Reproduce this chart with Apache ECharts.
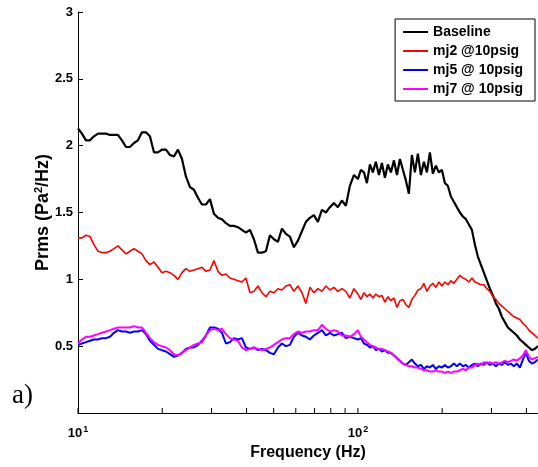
<!DOCTYPE html>
<html>
<head>
<meta charset="utf-8">
<script src="https://cdn.jsdelivr.net/npm/echarts@6/dist/echarts.min.js"></script>
<style>
  html, body { margin: 0; padding: 0; background: #ffffff; }
  #chart { width: 538px; height: 467px; }
</style>
</head>
<body>
<div id="chart"></div>
<script>
// Frequency bins (Hz), log-spaced
const freq = [
  10.00, 10.33, 10.68, 11.04, 11.40, 11.79, 12.18, 12.59, 13.01, 13.44,
  13.89, 14.36, 14.84, 15.33, 15.85, 16.38, 16.92, 17.49, 18.07, 18.68,
  19.31, 19.95, 20.62, 21.31, 22.02, 22.76, 23.52, 24.30, 25.12, 25.96,
  26.83, 27.72, 28.65, 29.61, 30.60, 31.62, 32.68, 33.77, 34.90, 36.06,
  37.28, 38.52, 39.81, 41.14, 42.51, 43.94, 45.40, 46.92, 48.49, 50.12,
  51.79, 53.53, 55.31, 57.16, 59.07, 61.05, 63.10, 65.20, 67.38, 69.63,
  71.97, 74.37, 76.86, 79.43, 82.08, 84.83, 87.66, 90.59, 93.62, 96.76,
  100.0, 102.5, 105.1, 107.7, 110.4, 113.1, 115.9, 118.9, 121.8, 124.9,
  128.0, 131.2, 134.5, 137.9, 141.3, 144.8, 148.4, 152.1, 155.9, 159.8,
  163.8, 167.9, 172.1, 176.4, 180.8, 185.3, 189.9, 194.7, 199.5, 204.5,
  209.6, 214.9, 220.2, 225.7, 231.4, 237.2, 243.1, 249.2, 255.4, 261.8,
  268.3, 275.0, 281.9, 288.9, 296.2, 303.6, 311.1, 318.9, 326.9, 335.1,
  343.4, 352.0, 360.8, 369.8, 379.1, 388.6, 398.3, 408.2, 418.4, 428.9,
  439.6
];

const seriesNames = ['Baseline', 'mj2 @10psig', 'mj5 @ 10psig', 'mj7 @ 10psig'];
const seriesColors = ['#000000', '#ff0000', '#0000ff', '#ff00ff'];

const baseline = [
  2.13, 2.09, 2.04, 2.04, 2.07, 2.09, 2.09, 2.09, 2.08, 2.08,
  2.08, 2.04, 1.99, 1.99, 2.02, 2.04, 2.10, 2.10, 2.07, 1.95,
  1.95, 1.97, 1.97, 1.93, 1.92, 1.97, 1.90, 1.77, 1.69, 1.67,
  1.61, 1.56, 1.56, 1.60, 1.49, 1.46, 1.45, 1.42, 1.40, 1.40,
  1.39, 1.37, 1.35, 1.37, 1.30, 1.20, 1.20, 1.21, 1.33, 1.30,
  1.28, 1.38, 1.34, 1.32, 1.24, 1.29, 1.36, 1.43, 1.46, 1.48,
  1.43, 1.52, 1.50, 1.54, 1.57, 1.54, 1.59, 1.55, 1.70, 1.78,
  1.75, 1.82, 1.80, 1.72, 1.86, 1.80, 1.88, 1.78, 1.87, 1.76,
  1.86, 1.80, 1.89, 1.78, 1.90, 1.82, 1.74, 1.64, 1.93, 1.80,
  1.94, 1.78, 1.88, 1.80, 1.95, 1.79, 1.85, 1.80, 1.82, 1.72,
  1.70, 1.62, 1.58, 1.54, 1.50, 1.47, 1.45, 1.41, 1.37, 1.26,
  1.17, 1.11, 1.05, 0.99, 0.93, 0.88, 0.82, 0.78, 0.72, 0.68,
  0.64, 0.62, 0.60, 0.58, 0.55, 0.53, 0.51, 0.49, 0.47, 0.48,
  0.50
];

const mj2 = [
  1.31, 1.31, 1.33, 1.32, 1.26, 1.21, 1.20, 1.20, 1.21, 1.23,
  1.25, 1.22, 1.19, 1.21, 1.23, 1.21, 1.19, 1.14, 1.11, 1.13,
  1.09, 1.05, 1.06, 1.05, 1.03, 1.00, 1.05, 1.08, 1.06, 1.07,
  1.08, 1.09, 1.06, 1.07, 1.14, 1.06, 1.03, 1.04, 1.01, 1.00,
  0.99, 0.98, 1.01, 0.90, 0.91, 0.95, 0.90, 0.87, 0.91, 0.90,
  0.93, 0.92, 0.95, 0.96, 0.91, 0.95, 0.90, 0.82, 0.94, 0.90,
  0.93, 0.91, 0.95, 0.92, 0.94, 0.91, 0.93, 0.91, 0.86, 0.93,
  0.89, 0.85, 0.90, 0.87, 0.89, 0.86, 0.89, 0.87, 0.88, 0.83,
  0.87, 0.84, 0.86, 0.79, 0.84, 0.85, 0.81, 0.79, 0.85, 0.88,
  0.92, 0.93, 0.97, 0.91, 0.95, 0.97, 0.94, 0.98, 0.95, 0.98,
  0.96, 0.99, 0.97, 1.00, 1.03, 1.01, 1.00, 0.98, 1.01, 0.98,
  0.97, 0.96, 0.96, 0.93, 0.91, 0.87, 0.85, 0.82, 0.80, 0.78,
  0.76, 0.74, 0.72, 0.71, 0.70, 0.67, 0.65, 0.62, 0.60, 0.58,
  0.56
];

const mj5 = [
  0.51, 0.52, 0.53, 0.54, 0.55, 0.55, 0.56, 0.56, 0.57, 0.60,
  0.62, 0.61, 0.61, 0.60, 0.61, 0.61, 0.62, 0.59, 0.54, 0.51,
  0.48, 0.47, 0.46, 0.44, 0.42, 0.43, 0.45, 0.48, 0.49, 0.49,
  0.51, 0.54, 0.58, 0.64, 0.64, 0.63, 0.60, 0.52, 0.53, 0.56,
  0.55, 0.56, 0.49, 0.48, 0.49, 0.47, 0.48, 0.47, 0.45, 0.44,
  0.49, 0.52, 0.50, 0.51, 0.57, 0.60, 0.58, 0.57, 0.55, 0.58,
  0.60, 0.62, 0.58, 0.60, 0.58, 0.59, 0.60, 0.56, 0.57, 0.56,
  0.55, 0.56, 0.52, 0.51, 0.49, 0.50, 0.47, 0.48, 0.46, 0.47,
  0.45, 0.45, 0.43, 0.41, 0.39, 0.37, 0.36, 0.38, 0.40, 0.37,
  0.35, 0.36, 0.33, 0.35, 0.34, 0.36, 0.33, 0.35, 0.34, 0.36,
  0.34, 0.35, 0.37, 0.35, 0.37, 0.35, 0.36, 0.34, 0.36, 0.37,
  0.35, 0.37, 0.36, 0.38, 0.36, 0.37, 0.35, 0.37, 0.36, 0.38,
  0.36, 0.37, 0.35, 0.37, 0.34, 0.40, 0.45, 0.39, 0.37, 0.38,
  0.40
];

const mj7 = [
  0.52, 0.55, 0.57, 0.57, 0.58, 0.59, 0.60, 0.61, 0.62, 0.63,
  0.64, 0.64, 0.64, 0.64, 0.65, 0.64, 0.64, 0.60, 0.56, 0.53,
  0.51, 0.50, 0.49, 0.47, 0.44, 0.43, 0.45, 0.47, 0.49, 0.51,
  0.52, 0.53, 0.58, 0.62, 0.63, 0.62, 0.63, 0.59, 0.56, 0.55,
  0.54, 0.49, 0.47, 0.48, 0.49, 0.48, 0.47, 0.48, 0.49, 0.51,
  0.53, 0.55, 0.56, 0.56, 0.59, 0.61, 0.60, 0.61, 0.61, 0.62,
  0.62, 0.66, 0.63, 0.61, 0.62, 0.61, 0.58, 0.58, 0.57, 0.59,
  0.62, 0.57, 0.55, 0.53, 0.51, 0.50, 0.49, 0.48, 0.48, 0.47,
  0.46, 0.45, 0.43, 0.41, 0.39, 0.37, 0.36, 0.35, 0.35, 0.34,
  0.34, 0.33, 0.32, 0.32, 0.31, 0.31, 0.32, 0.31, 0.31, 0.30,
  0.31, 0.30, 0.31, 0.31, 0.32, 0.33, 0.32, 0.34, 0.34, 0.36,
  0.37, 0.36, 0.38, 0.37, 0.38, 0.37, 0.38, 0.37, 0.38, 0.39,
  0.38, 0.39, 0.40, 0.39, 0.41, 0.43, 0.47, 0.42, 0.40, 0.41,
  0.42
];

// Tick positions on the logarithmic frequency axis (decades and their multiples)
const xTickValues = [10, 20, 30, 40, 50, 60, 70, 80, 90, 100, 200, 300, 400];

const seriesValues = [baseline, mj2, mj5, mj7];
const lineWidths = [2.2, 1.6, 2, 2];

const chart = echarts.init(document.getElementById('chart'), null, { renderer: 'canvas' });

const lineSeries = seriesNames.map((name, s) => ({
  name: name,
  type: 'line',
  data: freq.map((f, i) => [f, seriesValues[s][i]]),
  showSymbol: false,
  symbol: 'none',
  lineStyle: { color: seriesColors[s], width: lineWidths[s] },
  itemStyle: { color: seriesColors[s] },
  animation: false,
  z: 2 + s
}));

// Short inward tick marks along the frequency axis
const tickSeries = {
  type: 'custom',
  silent: true,
  animation: false,
  clip: false,
  z: 10,
  data: xTickValues.map(v => [v, 0]),
  renderItem: function (params, api) {
    const p = api.coord([api.value(0), 0]);
    return {
      type: 'line',
      shape: { x1: p[0], y1: p[1], x2: p[0], y2: p[1] - 5 },
      style: { stroke: '#000', lineWidth: 1 }
    };
  }
};

const option = {
  backgroundColor: '#ffffff',
  textStyle: { fontFamily: 'Liberation Sans, Arial, sans-serif' },
  grid: { left: 78, right: 0, top: 12, bottom: 54 },
  legend: {
    data: seriesNames,
    orient: 'vertical',
    right: 3,
    top: 19,
    backgroundColor: '#ffffff',
    borderColor: '#000000',
    borderWidth: 1,
    padding: [5, 12, 4, 8],
    itemGap: 3,
    itemWidth: 25,
    itemHeight: 2,
    icon: 'rect',
    textStyle: {
      fontSize: 14,
      fontWeight: 'bold',
      color: '#000',
      lineHeight: 16,
      fontFamily: 'Liberation Sans, Arial, sans-serif'
    }
  },
  xAxis: {
    type: 'log',
    logBase: 10,
    min: 10,
    max: 440,
    name: 'Frequency (Hz)',
    nameLocation: 'middle',
    nameGap: 32,
    nameTextStyle: { fontSize: 16, fontWeight: 'bold', color: '#000' },
    axisLine: { show: true, lineStyle: { color: '#000', width: 1 } },
    axisTick: { show: false },
    splitLine: { show: false },
    axisLabel: {
      margin: 12,
      color: '#000',
      showMaxLabel: false,
      formatter: function (v) {
        const e = Math.log10(v);
        if (Math.abs(e - Math.round(e)) > 1e-6) return '';
        return '{b|10}{s|' + Math.round(e) + '}';
      },
      rich: {
        b: { fontSize: 13, fontWeight: 'bold', color: '#000' },
        s: { fontSize: 9, fontWeight: 'bold', color: '#000', verticalAlign: 'top', padding: [0, 0, 7, 1] }
      }
    }
  },
  yAxis: {
    type: 'value',
    min: 0,
    max: 3,
    interval: 0.5,
    name: 'Prms (Pa{s|2}/Hz)',
    nameLocation: 'middle',
    nameGap: 25,
    nameMoveOverlap: false,
    nameTextStyle: {
      fontSize: 18,
      fontWeight: 'bold',
      color: '#000',
      rich: {
        s: { fontSize: 11, fontWeight: 'bold', color: '#000', verticalAlign: 'top', padding: [0, 0, 9, 0] }
      }
    },
    axisLine: { show: true, lineStyle: { color: '#000', width: 1 } },
    axisTick: { show: true, inside: true, length: 5, lineStyle: { color: '#000' } },
    splitLine: { show: false },
    axisLabel: {
      margin: 5,
      fontSize: 13,
      fontWeight: 'bold',
      color: '#000',
      formatter: function (v) { return v === 0 ? '' : String(v); }
    }
  },
  graphic: [{
    type: 'text',
    left: 12,
    top: 382,
    style: {
      text: 'a)',
      fontSize: 27,
      fontFamily: 'Liberation Serif, Times New Roman, serif',
      fill: '#000'
    }
  }],
  series: lineSeries.concat([tickSeries])
};

chart.setOption(option);
</script>
</body>
</html>
